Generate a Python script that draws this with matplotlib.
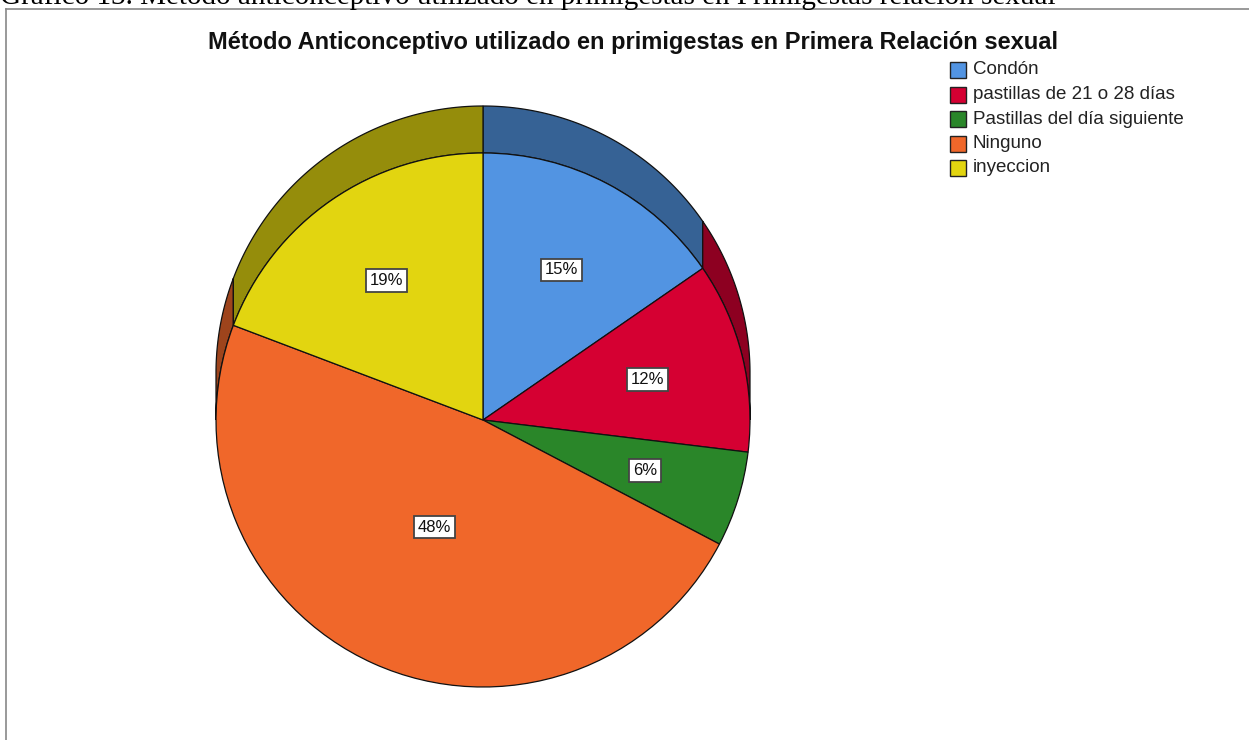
import numpy as np
import matplotlib
matplotlib.use("Agg")
import matplotlib.pyplot as plt
from matplotlib.patches import Polygon, Rectangle
import matplotlib.colors as mcolors

# ---- data ----
categories = ["Condón", "pastillas de 21 o 28 días", "Pastillas del día siguiente",
              "Ninguno", "inyeccion"]
counts = [8, 6, 3, 25, 10]
colors = ["#5294E2", "#D50032", "#2A8629", "#F0672A", "#E2D510"]
title = "Método Anticonceptivo utilizado en primigestas en Primera Relación sexual"
caption = "Gráfico 13. Método anticonceptivo utilizado en primigestas en Primigestas relación sexual"

W, H = 1249, 740
fig = plt.figure(figsize=(W / 100, H / 100), dpi=100)
ax = fig.add_axes([0, 0, 1, 1])

cx, cy, r, depth = 483, 320, 267, 47

vals = np.array(counts, dtype=float)
fracs = vals / vals.sum()
# clockwise from 90 deg
ends = 90 - 360 * np.cumsum(fracs)
starts = np.concatenate([[90], ends[:-1]])


def darken(c, f=0.66):
    rgb = np.array(mcolors.to_rgb(c))
    return tuple(rgb * f)


# side walls (only the upper half can be visible)
for s, e, col in zip(starts, ends, colors):
    a_hi, a_lo = s, e
    for k in range(-1, 2):
        lo = max(a_lo, 0 + 360 * k)
        hi = min(a_hi, 180 + 360 * k)
        if hi <= lo:
            continue
        t = np.radians(np.linspace(lo, hi, 120))
        front = np.column_stack([cx + r * np.cos(t), cy + r * np.sin(t)])
        back = np.column_stack([cx + r * np.cos(t[::-1]), cy + depth + r * np.sin(t[::-1])])
        poly = Polygon(np.vstack([front, back]), closed=True, facecolor=darken(col),
                       edgecolor="#111111", linewidth=0.9, zorder=1)
        ax.add_patch(poly)

# front pie
wedges, _ = ax.pie(vals, colors=colors, startangle=90, counterclock=False,
                   center=(cx, cy), radius=r, frame=True,
                   wedgeprops=dict(edgecolor="#111111", linewidth=0.9, zorder=2))
ax.set_xlim(0, W)
ax.set_ylim(0, H)
ax.set_aspect("auto")
ax.axis("off")

# percentage labels
imax = int(np.argmax(vals))
for i, (s, e) in enumerate(zip(starts, ends)):
    mid = np.radians((s + e) / 2)
    rr = r * (0.44 if i == imax else 0.635)
    ax.text(cx + rr * np.cos(mid), cy + rr * np.sin(mid), f"{fracs[i]*100:.0f}%",
            ha="center", va="center", fontsize=12, family="Liberation Sans",
            color="#111111", zorder=5,
            bbox=dict(boxstyle="square,pad=0.22", facecolor="white",
                      edgecolor="#444444", linewidth=1.3))

# title
ax.text(633, H - 42, title, ha="center", va="center", fontsize=17,
        fontweight="bold", family="Liberation Sans", color="#111111")

# legend
lx, ly0, dy, box = 950, H - 70, 24.5, 16
for i, (lab, col) in enumerate(zip(categories, colors)):
    y = ly0 - i * dy
    ax.add_patch(Rectangle((lx, y - box / 2), box, box, facecolor=col,
                           edgecolor="#222222", linewidth=1.0, zorder=3))
    ax.text(lx + box + 7, y, lab, ha="left", va="center", fontsize=13.5,
            family="Liberation Sans", color="#222222")

# frame lines
ax.plot([6.5, 6.5], [0, H - 8.5], color="#888888", linewidth=1.2)
ax.plot([6.5, W], [H - 8.5, H - 8.5], color="#888888", linewidth=1.2)

# caption cut off at top
ax.text(0, H - 4, caption, ha="left", va="baseline", fontsize=21,
        family="Liberation Serif", color="black", clip_on=True)

fig.savefig("out.png", dpi=100)
